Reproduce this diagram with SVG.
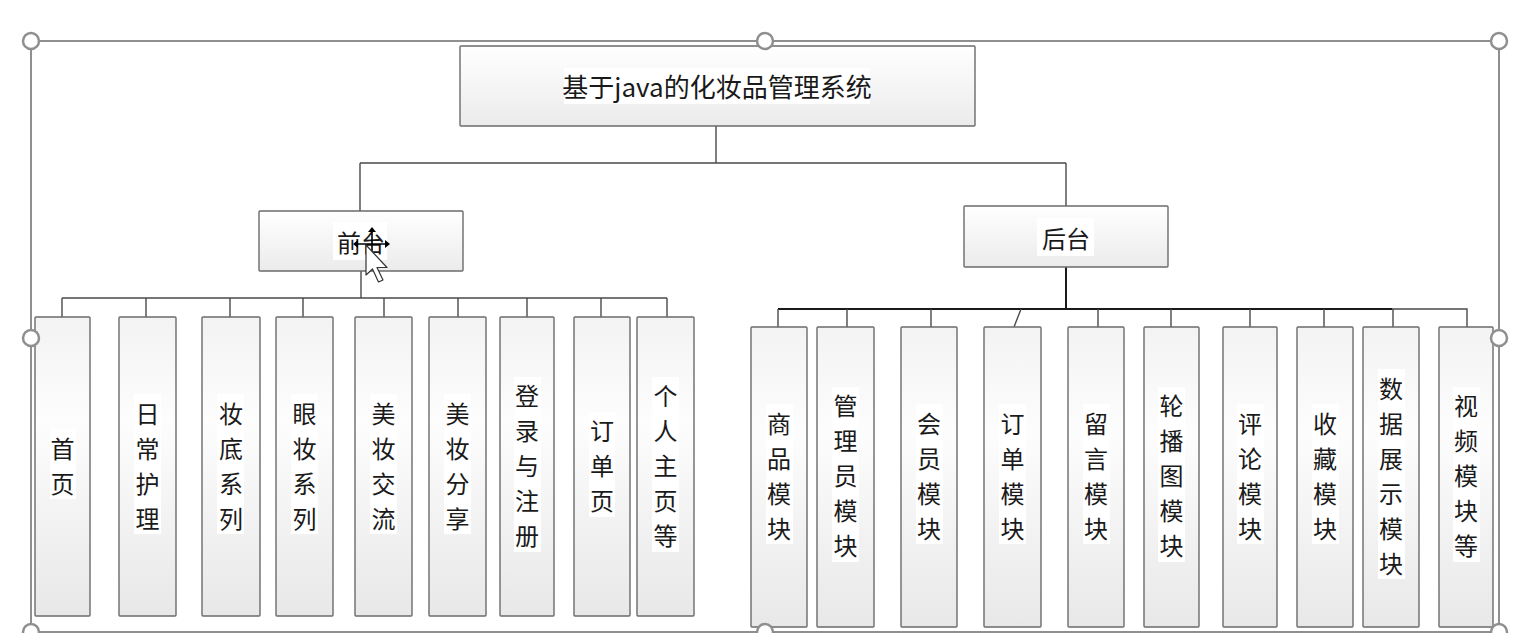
<svg xmlns="http://www.w3.org/2000/svg" width="1520" height="633" viewBox="0 0 1520 633">
<defs>
<linearGradient id="gv" x1="0" y1="0" x2="0" y2="1">
<stop offset="0" stop-color="#f3f3f3"/>
<stop offset="0.35" stop-color="#fdfdfd"/>
<stop offset="1" stop-color="#e8e8e8"/>
</linearGradient>
<linearGradient id="gh" x1="0" y1="0" x2="0" y2="1">
<stop offset="0" stop-color="#ffffff"/>
<stop offset="1" stop-color="#ebebeb"/>
</linearGradient>
<style>
.box{fill:url(#gh);stroke:#6b6b6b;stroke-width:1.4}
.leaf{fill:url(#gv);stroke:#6b6b6b;stroke-width:1.4}
.bg{fill:#ffffff}
.t{font-family:"Noto Sans CJK SC","Noto Sans",sans-serif;fill:#1a1a1a;text-anchor:middle;dominant-baseline:central}
.tl{font-size:24px}
.tt{font-size:26px}
.con{fill:none;stroke:#4a4a4a;stroke-width:1.4}
.dark{fill:none;stroke:#1a1a1a;stroke-width:2}
.frame{fill:none;stroke:#8f8f8f;stroke-width:2}
.handle{fill:#ffffff;stroke:#8f8f8f;stroke-width:2.5}
</style>
</defs>
<rect width="1520" height="633" fill="#ffffff"/>

<g id="connectors">
<path class="con" d="M716 126V163M360 163H1066M360 163V211M1066 163V206"/>
<path class="con" d="M62 298H667M62 298V317M146 298V317M230 298V317M303 298V317M384 298V317M458 298V317M527 298V317M601 298V317M667 298V317M361 271V298"/>
<path class="dark" d="M1066 267V309M778 309H1392"/>
<path class="con" stroke="#777" d="M1392 309H1467V327"/>
<path class="con" d="M778 309V327M847 309V327M931 309V327M1021 309L1014 327M1098 309V327M1171 309V327M1250 309V327M1324 309V327M1393 309V327"/>
</g>

<g id="title">
<rect class="box" x="460" y="46" width="515" height="80" rx="1"/>
<rect class="bg" x="564" y="68" width="306" height="36"/>
<text class="t tt" x="717" y="85">基于java的化妆品管理系统</text>
</g>

<g id="qiantai">
<rect class="box" x="259" y="211" width="204" height="60" rx="1"/>
<rect class="bg" x="333" y="222" width="54" height="38"/>
<text class="t tl" x="361" y="241">前台</text>
</g>

<g id="houtai">
<rect class="box" x="964" y="206" width="204" height="61" rx="1"/>
<rect class="bg" x="1037" y="218" width="57" height="38"/>
<text class="t tl" x="1066" y="237">后台</text>
</g>

<!-- front-end leaves -->
<g id="f1"><rect class="leaf" x="35" y="317" width="55" height="299" rx="1"/><rect class="bg" x="50" y="429" width="26" height="70"/><text class="t tl"><tspan x="62.5" y="446.5">首</tspan><tspan x="62.5" y="481.5">页</tspan></text></g>
<g id="f2"><rect class="leaf" x="119" y="317" width="57" height="299" rx="1"/><rect class="bg" x="134" y="394" width="27" height="140"/><text class="t tl"><tspan x="147.5" y="411.5">日</tspan><tspan x="147.5" y="446.5">常</tspan><tspan x="147.5" y="481.5">护</tspan><tspan x="147.5" y="516.5">理</tspan></text></g>
<g id="f3"><rect class="leaf" x="202" y="317" width="58" height="299" rx="1"/><rect class="bg" x="217" y="394" width="27" height="140"/><text class="t tl"><tspan x="231" y="411.5">妆</tspan><tspan x="231" y="446.5">底</tspan><tspan x="231" y="481.5">系</tspan><tspan x="231" y="516.5">列</tspan></text></g>
<g id="f4"><rect class="leaf" x="276" y="317" width="57" height="299" rx="1"/><rect class="bg" x="291" y="394" width="27" height="140"/><text class="t tl"><tspan x="304.5" y="411.5">眼</tspan><tspan x="304.5" y="446.5">妆</tspan><tspan x="304.5" y="481.5">系</tspan><tspan x="304.5" y="516.5">列</tspan></text></g>
<g id="f5"><rect class="leaf" x="355" y="317" width="57" height="299" rx="1"/><rect class="bg" x="370" y="394" width="27" height="140"/><text class="t tl"><tspan x="383.5" y="411.5">美</tspan><tspan x="383.5" y="446.5">妆</tspan><tspan x="383.5" y="481.5">交</tspan><tspan x="383.5" y="516.5">流</tspan></text></g>
<g id="f6"><rect class="leaf" x="429" y="317" width="57" height="299" rx="1"/><rect class="bg" x="444" y="394" width="27" height="140"/><text class="t tl"><tspan x="457.5" y="411.5">美</tspan><tspan x="457.5" y="446.5">妆</tspan><tspan x="457.5" y="481.5">分</tspan><tspan x="457.5" y="516.5">享</tspan></text></g>
<g id="f7"><rect class="leaf" x="500" y="317" width="54" height="299" rx="1"/><rect class="bg" x="514" y="377" width="27" height="175"/><text class="t tl"><tspan x="527" y="394">登</tspan><tspan x="527" y="429">录</tspan><tspan x="527" y="464">与</tspan><tspan x="527" y="499">注</tspan><tspan x="527" y="534">册</tspan></text></g>
<g id="f8"><rect class="leaf" x="574" y="317" width="56" height="299" rx="1"/><rect class="bg" x="589" y="412" width="26" height="105"/><text class="t tl"><tspan x="602" y="429">订</tspan><tspan x="602" y="464">单</tspan><tspan x="602" y="499">页</tspan></text></g>
<g id="f9"><rect class="leaf" x="637" y="317" width="57" height="299" rx="1"/><rect class="bg" x="652" y="377" width="27" height="175"/><text class="t tl"><tspan x="665.5" y="394">个</tspan><tspan x="665.5" y="429">人</tspan><tspan x="665.5" y="464">主</tspan><tspan x="665.5" y="499">页</tspan><tspan x="665.5" y="534">等</tspan></text></g>

<!-- back-end leaves -->
<g id="b1"><rect class="leaf" x="751" y="327" width="56" height="300" rx="1"/><rect class="bg" x="766" y="404" width="27" height="140"/><text class="t tl"><tspan x="779" y="421.5">商</tspan><tspan x="779" y="456.5">品</tspan><tspan x="779" y="491.5">模</tspan><tspan x="779" y="526.5">块</tspan></text></g>
<g id="b2"><rect class="leaf" x="817" y="327" width="57" height="300" rx="1"/><rect class="bg" x="832" y="387" width="27" height="175"/><text class="t tl"><tspan x="845.5" y="404">管</tspan><tspan x="845.5" y="439">理</tspan><tspan x="845.5" y="474">员</tspan><tspan x="845.5" y="509">模</tspan><tspan x="845.5" y="544">块</tspan></text></g>
<g id="b3"><rect class="leaf" x="901" y="327" width="56" height="300" rx="1"/><rect class="bg" x="916" y="404" width="27" height="140"/><text class="t tl"><tspan x="929" y="421.5">会</tspan><tspan x="929" y="456.5">员</tspan><tspan x="929" y="491.5">模</tspan><tspan x="929" y="526.5">块</tspan></text></g>
<g id="b4"><rect class="leaf" x="984" y="327" width="57" height="300" rx="1"/><rect class="bg" x="999" y="404" width="27" height="140"/><text class="t tl"><tspan x="1012.5" y="421.5">订</tspan><tspan x="1012.5" y="456.5">单</tspan><tspan x="1012.5" y="491.5">模</tspan><tspan x="1012.5" y="526.5">块</tspan></text></g>
<g id="b5"><rect class="leaf" x="1068" y="327" width="56" height="300" rx="1"/><rect class="bg" x="1083" y="404" width="27" height="140"/><text class="t tl"><tspan x="1096" y="421.5">留</tspan><tspan x="1096" y="456.5">言</tspan><tspan x="1096" y="491.5">模</tspan><tspan x="1096" y="526.5">块</tspan></text></g>
<g id="b6"><rect class="leaf" x="1144" y="327" width="55" height="300" rx="1"/><rect class="bg" x="1158" y="387" width="27" height="175"/><text class="t tl"><tspan x="1171.5" y="404">轮</tspan><tspan x="1171.5" y="439">播</tspan><tspan x="1171.5" y="474">图</tspan><tspan x="1171.5" y="509">模</tspan><tspan x="1171.5" y="544">块</tspan></text></g>
<g id="b7"><rect class="leaf" x="1223" y="327" width="54" height="300" rx="1"/><rect class="bg" x="1237" y="404" width="27" height="140"/><text class="t tl"><tspan x="1250" y="421.5">评</tspan><tspan x="1250" y="456.5">论</tspan><tspan x="1250" y="491.5">模</tspan><tspan x="1250" y="526.5">块</tspan></text></g>
<g id="b8"><rect class="leaf" x="1297" y="327" width="56" height="300" rx="1"/><rect class="bg" x="1312" y="404" width="27" height="140"/><text class="t tl"><tspan x="1325" y="421.5">收</tspan><tspan x="1325" y="456.5">藏</tspan><tspan x="1325" y="491.5">模</tspan><tspan x="1325" y="526.5">块</tspan></text></g>
<g id="b9"><rect class="leaf" x="1363" y="327" width="56" height="300" rx="1"/><rect class="bg" x="1378" y="369" width="27" height="210"/><text class="t tl"><tspan x="1391" y="386.5">数</tspan><tspan x="1391" y="421.5">据</tspan><tspan x="1391" y="456.5">展</tspan><tspan x="1391" y="491.5">示</tspan><tspan x="1391" y="526.5">模</tspan><tspan x="1391" y="561.5">块</tspan></text></g>
<g id="b10"><rect class="leaf" x="1439" y="327" width="54" height="300" rx="1"/><rect class="bg" x="1453" y="387" width="27" height="175"/><text class="t tl"><tspan x="1466" y="404">视</tspan><tspan x="1466" y="439">频</tspan><tspan x="1466" y="474">模</tspan><tspan x="1466" y="509">块</tspan><tspan x="1466" y="544">等</tspan></text></g>

<!-- selection frame -->
<g id="selection">
<rect class="frame" x="31" y="41" width="1468" height="591"/>
<circle class="handle" cx="31" cy="41" r="8"/>
<circle class="handle" cx="765" cy="41" r="8"/>
<circle class="handle" cx="1499" cy="41" r="8"/>
<circle class="handle" cx="31" cy="338" r="8"/>
<circle class="handle" cx="1499" cy="338" r="8"/>
<circle class="handle" cx="31" cy="632" r="8"/>
<circle class="handle" cx="765" cy="632" r="8"/>
<circle class="handle" cx="1499" cy="632" r="8"/>
</g>

<!-- mouse cursor -->
<g id="cursor">
<path d="M355 244H388M372 229V258" stroke="#000" stroke-width="1.6" fill="none"/>
<path d="M353 244L358 240V248ZM390 244L385 240V248ZM372 227L368 232H376ZM372 260L368 255H376Z" fill="#000"/>
<path d="M366 245V275L372.5 269L378.5 282L383 280L377 267.5H387Z" fill="#ffffff" stroke="#333" stroke-width="1.2" stroke-linejoin="round"/>
</g>
</svg>
